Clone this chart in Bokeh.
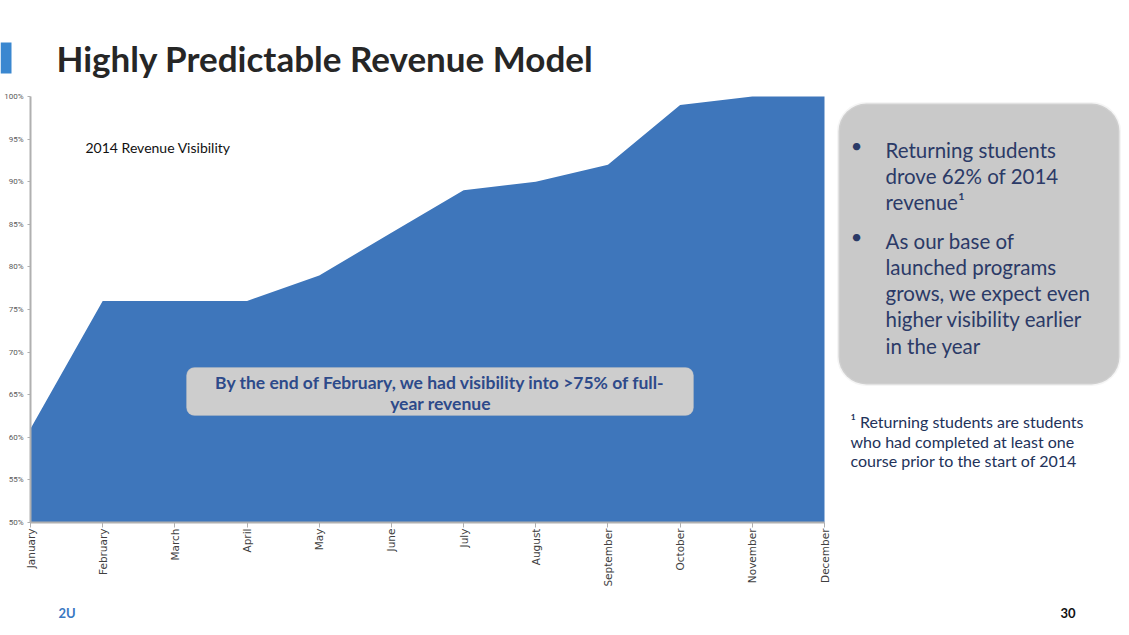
import math
from bokeh.plotting import figure
from bokeh.models import Range1d, FixedTicker, PrintfTickFormatter, Label, BoxAnnotation
from bokeh.embed import file_html
from bokeh.resources import INLINE

# ---- data ----
months = ["January", "February", "March", "April", "May", "June", "July",
          "August", "September", "October", "November", "December"]
visibility = [61, 76, 76, 76, 79, 84, 89, 90, 92, 99, 100, 100]
y_ticks = [50, 55, 60, 65, 70, 75, 80, 85, 90, 95, 100]

title_text = "Highly Predictable Revenue Model"
chart_label = "2014 Revenue Visibility"
callout_lines = ["By the end of February, we had visibility into >75% of full-",
                 "year revenue"]
bullet_paras = [["Returning students", "drove 62% of 2014", "revenue\u00b9"],
                ["As our base of", "launched programs", "grows, we expect even",
                 "higher visibility earlier", "in the year"]]
footnote_lines = ["\u00b9 Returning students are students",
                  "who had completed at least one",
                  "course prior to the start of 2014"]
footer_left = "2U"
footer_right = "30"

# ---- layout (canvas pixels) ----
W, H = 1125, 630
AX_L, AX_B, AX_T, AX_R = 30, 522, 96, 824     # chart area in canvas px
Y0, Y1 = y_ticks[0], y_ticks[-1]
n = len(months)
ppx = (AX_R - AX_L) / (n - 1)                 # px per month
ppy = (AX_B - AX_T) / (Y1 - Y0)               # px per percent
x_range = Range1d(-AX_L / ppx, (W - AX_L) / ppx)
y_range = Range1d(Y0 - (H - AX_B) / ppy, Y0 + AX_B / ppy)

def sx(px):  # canvas x -> screen units (frame == canvas)
    return px

def sy(py):  # canvas y -> screen units (y up)
    return H - py

FONT = "Lato"
NAVY = "#2b3a67"

p = figure(width=W, height=H, output_backend="svg", toolbar_location=None,
           x_range=x_range, y_range=y_range,
           min_border_left=0, min_border_right=0, min_border_top=0, min_border_bottom=0)
p.outline_line_color = None
p.grid.visible = False
p.background_fill_color = "white"
p.border_fill_color = "white"

x = list(range(n))
p.varea(x=x, y1=[Y0] * n, y2=visibility, fill_color="#3e76bb")

# axes (drawn at fixed data locations inside the frame)
p.xaxis.fixed_location = Y0
p.yaxis.fixed_location = 0
p.xaxis.ticker = FixedTicker(ticks=x)
p.xaxis.major_label_overrides = {i: m for i, m in enumerate(months)}
p.xaxis.major_label_orientation = math.pi / 2
p.xaxis.bounds = (0, n - 1)
p.xaxis.major_label_text_font = "DejaVu Sans"
p.xaxis.major_label_text_font_size = "10.5px"
p.xaxis.major_label_text_color = "#404040"
p.xaxis.major_label_standoff = 1
p.xaxis.major_tick_out = 5
p.xaxis.major_tick_in = 0
p.xaxis.minor_tick_line_color = None
p.xaxis.axis_line_color = "#b0b0b0"
p.xaxis.axis_line_width = 2
p.xaxis.major_tick_line_color = "#b0b0b0"

p.yaxis.ticker = FixedTicker(ticks=y_ticks)
p.yaxis.bounds = (Y0, Y1)
p.yaxis.formatter = PrintfTickFormatter(format="%d%%")
p.yaxis.major_label_text_font = "Roboto"
p.yaxis.major_label_text_font_size = "8px"
p.yaxis.major_label_text_color = "#595959"
p.yaxis.major_label_standoff = 4
p.yaxis.major_tick_out = 3
p.yaxis.major_tick_in = 0
p.yaxis.minor_tick_line_color = None
p.yaxis.axis_line_color = "#b0b0b0"
p.yaxis.axis_line_width = 2
p.yaxis.major_tick_line_color = "#b0b0b0"

def box(l, t, r, b, **kw):
    p.add_layout(BoxAnnotation(left=sx(l), right=sx(r), top=sy(t), bottom=sy(b),
                               left_units="screen", right_units="screen",
                               top_units="screen", bottom_units="screen",
                               fill_alpha=1, **kw))

def label(px, py, t, **kw):
    p.add_layout(Label(x=sx(px), y=sy(py), x_units="screen", y_units="screen",
                       text=t, **kw))

# title bar + title
box(0, 42, 11, 73, fill_color="#3a87d0", line_color=None)
label(56, 57, title_text, text_font=FONT, text_font_style="bold",
      text_font_size="35px", text_color="#262626", text_baseline="middle")

label(85, 147, chart_label, text_font=FONT, text_font_size="14px",
      text_color="#111111", text_baseline="middle")

# callout box
box(186, 367, 693, 415, fill_color="#cdcdcd", line_color="#bdbdbd",
    line_width=1, border_radius=8)
for i, t in enumerate(callout_lines):
    label(440, 382 + 21 * i, t, text_font=FONT, text_font_style="bold",
          text_font_size="17.5px", text_color="#2d4a8a",
          text_align="center", text_baseline="middle")

# right box
box(838, 103, 1119, 384, fill_color="#c9c9c9", line_color="#dedede",
    line_width=3, border_radius=28)
para_top = [149, 240]
for para, top in zip(bullet_paras, para_top):
    label(856, top - 5, "\u2022", text_font=FONT, text_font_size="20px",
          text_color=NAVY, text_baseline="middle", text_align="center")
    for j, t in enumerate(para):
        label(885, top + 26.3 * j, t, text_font=FONT, text_font_size="20.5px",
              text_color=NAVY, text_baseline="middle")

for j, t in enumerate(footnote_lines):
    label(850, 421 + 19.5 * j, t, text_font=FONT, text_font_size="16px",
          text_color="#22325a", text_baseline="middle")

label(58, 612, footer_left, text_font=FONT, text_font_style="bold",
      text_font_size="13px", text_color="#3a78c2", text_baseline="middle")
label(1075, 612, footer_right, text_font=FONT, text_font_style="bold",
      text_font_size="13px", text_color="#111111", text_baseline="middle",
      text_align="right")

open("out.html", "w").write(file_html(p, INLINE))
